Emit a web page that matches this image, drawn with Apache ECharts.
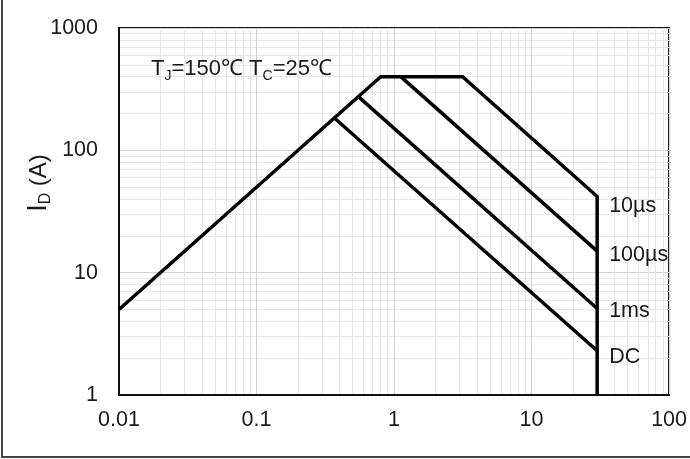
<!DOCTYPE html>
<html>
<head>
<meta charset="utf-8">
<script src="https://cdn.jsdelivr.net/npm/echarts@6/dist/echarts.min.js"></script>
<style>
  html, body { margin: 0; padding: 0; background: #fff; }
  #chart { width: 690px; height: 459px; }
</style>
</head>
<body>
<div id="chart"></div>
<script>
// Safe operating area: drain current I_D (A) versus drain-source voltage V_DS (V)
const xTicks = [0.01, 0.1, 1, 10, 100];
const yTicks = [1, 10, 100, 1000];

// Limit curves as [V, A] corner points
const envelope10us = [[0.01, 5], [0.8, 400], [3.15, 400], [30, 42], [30, 1]];
const pulse100us  = [[1.12, 400], [30, 15]];
const pulse1ms    = [[0.55, 275], [30, 5.1]];
const limitDC     = [[0.37, 183], [30, 2.3]];

// Curve names shown at the right of the 30 V limit
const curveLabels = ['10µs', '100µs', '1ms', 'DC'];
const curveLabelPos = [[30, 35], [30, 13.9], [30, 4.85], [30, 2.04]];

const FONT = '"Liberation Sans", Arial, sans-serif';
const TEXT = '#1a1a1a';
const lineStyle = { color: '#000', width: 3.5, join: 'miter', cap: 'butt' };

function fmtTick(v) {
  return v < 1 ? String(v) : String(Math.round(v));
}

const chart = echarts.init(document.getElementById('chart'), null, { renderer: 'canvas' });

const mkLine = (name, data) => ({
  name, type: 'line', data, symbol: 'none', lineStyle, z: 5, animation: false
});

chart.setOption({
  animation: false,
  backgroundColor: '#fff',
  grid: {
    left: 119, right: 20, top: 28, bottom: 64,
    show: true, borderColor: '#111', borderWidth: 2, backgroundColor: 'transparent'
  },
  xAxis: {
    type: 'log', logBase: 10, min: xTicks[0], max: xTicks[xTicks.length - 1],
    axisLine: { show: true, onZero: false, lineStyle: { color: '#111', width: 2 } },
    axisTick: { show: false },
    axisLabel: { fontSize: 21.5, color: TEXT, fontFamily: FONT, margin: 14, formatter: fmtTick },
    splitLine: { show: true, lineStyle: { color: '#d2d2d2', width: 1 } },
    minorTick: { show: false, splitNumber: 9 },
    minorSplitLine: { show: true, lineStyle: { color: '#e6e6e6', width: 1 } }
  },
  yAxis: {
    type: 'log', logBase: 10, min: yTicks[0], max: yTicks[yTicks.length - 1],
    axisLine: { show: true, onZero: false, lineStyle: { color: '#111', width: 2 } },
    axisTick: { show: false },
    axisLabel: { fontSize: 21.5, color: TEXT, fontFamily: FONT, margin: 21, formatter: fmtTick },
    splitLine: { show: true, lineStyle: { color: '#d2d2d2', width: 1 } },
    minorTick: { show: false, splitNumber: 9 },
    minorSplitLine: { show: true, lineStyle: { color: '#e6e6e6', width: 1 } }
  },
  series: [
    mkLine('10µs', envelope10us),
    mkLine('100µs', pulse100us),
    mkLine('1ms', pulse1ms),
    mkLine('DC', limitDC),
    {
      name: 'labels', type: 'scatter', symbolSize: 0, silent: true, z: 6,
      itemStyle: { opacity: 1 },
      data: curveLabelPos.map((p, i) => ({ value: p, name: curveLabels[i] })),
      label: {
        show: true, position: 'right', distance: 12, opacity: 1,
        formatter: p => p.name,
        fontSize: 21.5, color: TEXT, fontFamily: FONT
      }
    }
  ],
  graphic: [
    {
      type: 'text', left: 151, top: 58, z: 10,
      style: {
        text: '{a|T}{s|J}{a|=150℃ T}{s|C}{a|=25℃}',
        rich: {
          a: { fontSize: 22, fontFamily: FONT, fill: TEXT, lineHeight: 28, verticalAlign: 'middle' },
          s: { fontSize: 14, fontFamily: FONT, fill: TEXT, lineHeight: 12, verticalAlign: 'bottom' }
        }
      }
    },
    {
      type: 'text', x: 39, y: 183, rotation: Math.PI / 2, z: 10,
      style: {
        text: '{i|I}{s|D}{a| (A)}',
        align: 'center', verticalAlign: 'middle',
        rich: {
          i: { fontSize: 27, fontFamily: FONT, fill: TEXT, lineHeight: 30, verticalAlign: 'middle' },
          a: { fontSize: 24, fontFamily: FONT, fill: TEXT, lineHeight: 30, verticalAlign: 'middle' },
          s: { fontSize: 16, fontFamily: FONT, fill: TEXT, lineHeight: 12, verticalAlign: 'bottom' }
        }
      }
    },
    {
      type: 'polyline', z: 10, silent: true,
      shape: { points: [[2, 0], [2, 457], [690, 457]] },
      style: { stroke: '#444', lineWidth: 2, fill: null }
    }
  ]
});
</script>
</body>
</html>
